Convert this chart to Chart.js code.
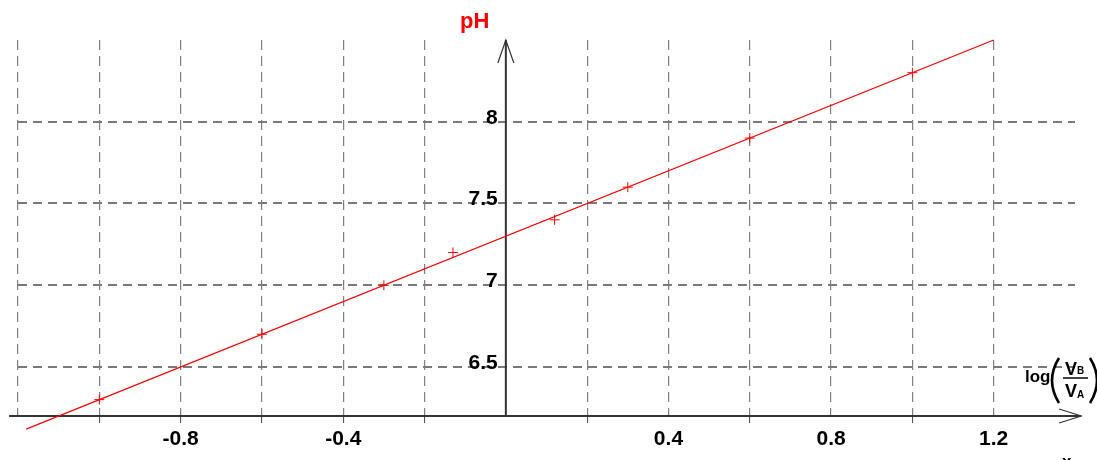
<!DOCTYPE html>
<html><head><meta charset="utf-8">
<script src="https://cdn.jsdelivr.net/npm/chart.js@4/dist/chart.umd.min.js"></script>
<style>html,body{margin:0;padding:0;background:#fff;overflow:hidden}canvas{display:block}</style>
</head><body>
<canvas id="c" width="1097" height="460"></canvas>
<script>
// ---- data ----
const pointsX  = [-1.0, -0.6, -0.3, -0.13, 0.12, 0.3, 0.6, 1.0];
const pointsPH = [6.3, 6.7, 7.0, 7.2, 7.4, 7.6, 7.9, 8.3];
const fitX  = [-1.18, 1.2];
const fitPH = [6.12, 8.5];
const xGridValues = [-1.2, -1.0, -0.8, -0.6, -0.4, -0.2, 0, 0.2, 0.4, 0.6, 0.8, 1.0, 1.2];
const xTickLabels = ['', '', '-0.8', '', '-0.4', '', '', '', '0.4', '', '0.8', '', '1.2'];
const xTickMarks  = [-1.0, -0.8, -0.6, -0.4, -0.2, 0.2, 0.6, 1.0];
const yGridValues = [6.5, 7, 7.5, 8];
const yTickLabels = ['6.5', '7', '7.5', '8'];
const yTitle = 'pH';
const xTitleMain = 'log';
const xTitleNum = 'V', xTitleNumSub = 'B';
const xTitleDen = 'V', xTitleDenSub = 'A';
const cornerLabel = 'x';

const FONT = "'Liberation Sans', Arial, Helvetica, sans-serif";

const axesPlugin = {
  id: 'axesArrows',
  beforeDatasetsDraw(chart) {
    const {ctx, scales: {x, y}} = chart;
    const x0 = x.getPixelForValue(0);
    const yb = y.getPixelForValue(6.2);
    const yt = y.getPixelForValue(8.5);
    const xl = x.getPixelForValue(-1.222);
    const xr = x.getPixelForValue(1.415);
    ctx.save();
    ctx.strokeStyle = '#333';
    ctx.lineWidth = 2;
    ctx.beginPath();
    ctx.moveTo(xl, yb); ctx.lineTo(xr, yb);
    ctx.moveTo(x0, yb); ctx.lineTo(x0, yt);
    ctx.stroke();
    ctx.lineWidth = 1.2;
    ctx.beginPath();
    ctx.moveTo(x0 - 8, yt + 23); ctx.lineTo(x0, yt); ctx.lineTo(x0 + 8, yt + 23);
    ctx.moveTo(xr - 22, yb - 7); ctx.lineTo(xr, yb); ctx.lineTo(xr - 22, yb + 7);
    ctx.stroke();
    ctx.restore();
  },
  afterDraw(chart) {
    const {ctx} = chart;
    ctx.save();
    // pH title
    ctx.fillStyle = '#ff0000';
    ctx.font = 'bold 22px ' + FONT;
    ctx.textBaseline = 'alphabetic';
    ctx.textAlign = 'left';
    ctx.fillText(yTitle, 460, 28);
    // x title: log(VB/VA)
    ctx.fillStyle = '#000';
    ctx.font = 'bold 17px ' + FONT;
    ctx.fillText(xTitleMain, 1025, 382);
    ctx.font = 'bold 18px ' + FONT;
    ctx.fillText(xTitleNum, 1065, 375);
    ctx.fillText(xTitleDen, 1065, 397);
    ctx.font = 'bold 10px ' + FONT;
    ctx.fillText(xTitleNumSub, 1077, 374);
    ctx.fillText(xTitleDenSub, 1077, 398);
    ctx.strokeStyle = '#000';
    ctx.lineWidth = 1.5;
    ctx.beginPath(); ctx.moveTo(1063, 378); ctx.lineTo(1088, 378); ctx.stroke();
    ctx.lineWidth = 2.6;
    ctx.beginPath();
    ctx.moveTo(1059, 358); ctx.quadraticCurveTo(1045, 380.5, 1059, 403);
    ctx.moveTo(1090, 358); ctx.quadraticCurveTo(1104, 380.5, 1090, 403);
    ctx.stroke();
    ctx.font = 'bold 17px ' + FONT;
    ctx.fillText(cornerLabel, 1062, 467);
    ctx.restore();
  }
};

new Chart(document.getElementById('c'), {
  type: 'scatter',
  data: {
    datasets: [
      {
        type: 'line',
        data: fitX.map((v, i) => ({x: v, y: fitPH[i]})),
        borderColor: '#ff0000',
        borderWidth: 1.2,
        pointRadius: 0,
        fill: false,
        clip: false,
        tension: 0
      },
      {
        type: 'scatter',
        data: pointsX.map((v, i) => ({x: v, y: pointsPH[i]})),
        pointStyle: 'cross',
        radius: 5,
        borderColor: '#ff0000',
        backgroundColor: '#ff0000',
        borderWidth: 1,
        clip: false
      }
    ]
  },
  options: {
    responsive: false,
    animation: false,
    devicePixelRatio: 1,
    layout: {padding: {left: 18, right: 22, top: 40, bottom: 44}},
    plugins: {legend: {display: false}, tooltip: {enabled: false}},
    scales: {
      x: {
        type: 'linear',
        min: -1.2,
        max: 1.4,
        position: {y: 6.2},
        afterBuildTicks: s => { s.ticks = xGridValues.map(v => ({value: v})); },
        grid: {
          color: c => (c.tick && c.tick.value === 0) ? 'rgba(0,0,0,0)' : '#808080',
          lineWidth: 1.2,
          drawTicks: true,
          tickLength: 7,
          tickWidth: 1,
          tickColor: c => (c.tick && xTickMarks.includes(c.tick.value)) ? '#444' : 'rgba(0,0,0,0)',
          tickBorderDash: []
        },
        border: {display: false, dash: [10, 6]},
        ticks: {
          autoSkip: false,
          maxRotation: 0,
          padding: 4,
          color: '#000',
          font: {family: FONT, size: 21, weight: 'bold'},
          callback: (v, i) => xTickLabels[i]
        }
      },
      y: {
        type: 'linear',
        min: 6.2,
        max: 8.5,
        position: {x: -0.02},
        afterBuildTicks: s => { s.ticks = yGridValues.map(v => ({value: v})); },
        grid: {
          color: '#7a7a7a',
          lineWidth: 2,
          drawTicks: false
        },
        border: {display: false, dash: [9, 6]},
        ticks: {
          padding: 8,
          labelOffset: -4,
          color: '#000',
          font: {family: FONT, size: 21, weight: 'bold'},
          callback: (v, i) => yTickLabels[i]
        }
      }
    }
  },
  plugins: [axesPlugin]
});
</script>
</body></html>
